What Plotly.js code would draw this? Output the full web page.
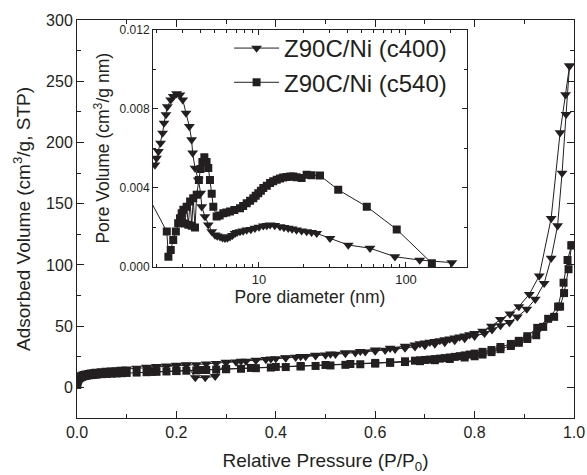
<!DOCTYPE html>
<html><head><meta charset="utf-8">
<script src="https://cdn.plot.ly/plotly-3.0.1.min.js"></script>
<style>html,body{margin:0;padding:0;background:#fff}#chart{width:587px;height:475px}</style>
</head><body><div id="chart"></div>
<script>
// ---- Isotherm data (relative pressure P/P0, adsorbed volume cm3/g STP) ----
const c400AdsP = [0.0005,0.001,0.002,0.003,0.005,0.007,0.01,0.013,0.016,0.02,0.025,0.03,0.035,0.04,0.05,0.06,0.07,0.08,0.09,0.10,0.12,0.14,0.16,0.18,0.20,0.22,0.24,0.26,0.28,0.30,0.32,0.34,0.36,0.38,0.40,0.42,0.44,0.46,0.48,0.50,0.52,0.54,0.56,0.58,0.60,0.62,0.64,0.66,0.68,0.70,0.72,0.74,0.76,0.78,0.80,0.82,0.835,0.852,0.870,0.886,0.905,0.922,0.940,0.954,0.967,0.976,0.984,0.991];
const c400AdsV = [2.5,4.5,6.5,7.8,9.0,9.8,10.5,11.0,11.4,11.8,12.2,12.6,12.9,13.2,13.6,14.0,14.3,14.6,14.9,15.2,15.7,16.2,16.7,17.2,17.6,18.1,18.6,19.1,19.6,20.2,20.8,21.4,22.1,22.8,23.5,24.1,24.7,25.3,25.9,26.5,27.1,27.7,28.3,29.0,29.7,30.4,31.2,32.1,33.1,34.2,35.4,36.7,38.2,39.9,41.8,44.2,47.0,50.5,53.0,57.6,64.0,72.0,85.0,105.5,132.0,175.0,223.0,262.5];
const c400DesP = [0.991,0.983,0.972,0.954,0.930,0.910,0.889,0.871,0.852,0.834,0.816,0.80,0.79,0.78,0.77,0.76,0.75,0.74,0.73,0.72,0.71,0.70,0.69,0.68,0.66,0.63,0.60,0.57,0.54,0.51,0.48,0.45,0.42,0.39,0.36,0.33,0.30,0.278,0.258,0.238,0.22,0.20,0.18,0.16,0.14];
const c400DesV = [262.5,239,208,138,91,76,66,60,55.5,50,46,44,43,42,41.2,40.4,39.6,38.9,38.2,37.5,36.9,36.3,35.7,34.8,33.6,32.0,30.7,29.5,28.4,27.3,26.3,25.3,24.3,23.3,22.3,21.5,20.6,9.0,8.0,8.0,18.6,18.1,17.6,17.1,16.6];
const c540AdsP = [0.0005,0.001,0.002,0.003,0.005,0.007,0.01,0.013,0.016,0.02,0.025,0.03,0.035,0.04,0.05,0.06,0.07,0.08,0.09,0.10,0.12,0.14,0.16,0.18,0.20,0.22,0.24,0.26,0.28,0.30,0.33,0.36,0.39,0.42,0.45,0.48,0.51,0.54,0.57,0.60,0.63,0.66,0.69,0.72,0.75,0.78,0.80,0.816,0.834,0.852,0.873,0.889,0.906,0.924,0.938,0.960,0.972,0.980,0.989,0.995];
const c540AdsV = [2.0,4.0,5.5,6.5,7.5,8.0,8.6,9.0,9.3,9.6,9.9,10.1,10.3,10.5,10.8,11.0,11.2,11.4,11.6,11.8,12.1,12.4,12.7,13.0,13.3,13.6,13.9,14.2,14.5,14.8,15.2,15.7,16.2,16.6,17.0,17.5,17.9,18.4,18.9,19.4,20.0,20.7,21.4,22.2,23.2,24.4,25.4,26.8,28.8,31.2,33.8,36.4,39.5,42.6,49.4,57.6,66.0,77.0,96.5,116.0];
const c540DesP = [0.995,0.987,0.979,0.968,0.948,0.926,0.906,0.889,0.873,0.852,0.834,0.816,0.80,0.79,0.78,0.77,0.76,0.75,0.74,0.73,0.72,0.71,0.70,0.69,0.68,0.66,0.63,0.60,0.55,0.50,0.45,0.40,0.35,0.30,0.25,0.20,0.15];
const c540DesV = [116.0,104.0,85.5,66.0,56.0,48.6,41.8,38.0,35.5,33.0,30.5,29.0,27.6,26.8,26.1,25.5,24.9,24.4,23.9,23.5,23.1,22.7,22.4,22.1,21.8,21.3,20.6,20.0,19.1,18.3,17.5,16.7,15.9,15.0,14.2,13.4,12.6];

// ---- Pore size distribution (pore diameter nm, pore volume cm3/g nm) ----
const c400PoreD = [1.96,2.01,2.07,2.14,2.21,2.26,2.33,2.38,2.51,2.61,2.75,2.90,3.03,3.19,3.36,3.48,3.54,3.67,3.87,4.01,4.08,4.29,4.52,4.77,5.02,5.2,5.43,5.65,5.87,6.1,6.35,6.6,6.87,7.1,7.43,7.8,8.25,8.8,9.39,10.0,10.7,11.3,11.9,12.8,13.9,14.8,15.8,16.8,18.0,19.5,21.1,22.8,24.7,30.4,40.5,56.9,84.1,124,205];
const c400PoreV = [0.00516,0.0055,0.00584,0.00626,0.00677,0.00727,0.0077,0.0081,0.00845,0.00862,0.00876,0.0087,0.00845,0.00778,0.0071,0.00643,0.00576,0.0050,0.0044,0.00373,0.00305,0.00255,0.00213,0.00179,0.00162,0.00157,0.00153,0.00148,0.00145,0.00147,0.00153,0.0016,0.0017,0.00175,0.00179,0.00182,0.00187,0.0019,0.00196,0.00202,0.00208,0.0021,0.00213,0.0021,0.00204,0.0020,0.00196,0.00192,0.00187,0.00183,0.00179,0.00175,0.0017,0.00145,0.00111,0.00095,0.00052,0.00035,0.00022];
const c540PoreD = [1.67,2.36,2.42,2.51,2.61,2.72,2.82,2.90,2.98,3.06,3.14,3.22,3.31,3.40,3.49,3.57,3.67,3.77,3.90,4.00,4.12,4.25,4.40,4.52,4.64,4.77,4.89,5.15,5.4,5.72,6.0,6.35,6.8,7.43,7.8,8.25,8.7,9.15,9.5,9.89,10.3,10.7,11.3,11.9,12.5,13.2,13.9,14.6,15.4,16.3,17.1,18.0,19.5,21.1,22.8,26.0,34.6,54.1,86.5,150];
const c540PoreV = [0.0039,0.00179,0.00052,0.00086,0.00137,0.00179,0.00221,0.00246,0.00272,0.00289,0.0022,0.00305,0.00213,0.00331,0.00208,0.00348,0.0020,0.00365,0.0044,0.00495,0.0053,0.00555,0.0053,0.0050,0.0044,0.0037,0.00305,0.00255,0.0026,0.00272,0.00275,0.0028,0.00288,0.00297,0.00308,0.00322,0.00335,0.00348,0.0036,0.00373,0.00385,0.00399,0.0041,0.00424,0.00433,0.00441,0.00447,0.00452,0.00455,0.00457,0.00457,0.00454,0.0045,0.00466,0.00463,0.00462,0.0039,0.00305,0.0019,0.00019];

// ---- Labels / ticks ----
const seriesNames = ['Z90C/Ni (c400)', 'Z90C/Ni (c540)'];
const xTicks = [0, 0.2, 0.4, 0.6, 0.8, 1.0];
const xTickText = ['0.0', '0.2', '0.4', '0.6', '0.8', '1.0'];
const yTicks = [0, 50, 100, 150, 200, 250, 300];
const insetXTicks = [10, 100];
const insetXTickText = ['10', '100'];
const insetXMinor = [2,3,4,5,6,7,8,9,20,30,40,50,60,70,80,90,200];
const insetYTicks = [0, 0.004, 0.008, 0.012];
const insetYTickText = ['0.000', '0.004', '0.008', '0.012'];

const FONT = 'Liberation Sans, Arial, Helvetica, sans-serif';
const INK = '#231f20';

function iso(p, v, sym, size) {
  return {x: p, y: v, xaxis: 'x', yaxis: 'y', type: 'scatter', mode: 'lines+markers',
    line: {color: INK, width: 1}, marker: {symbol: sym, size: size, color: INK},
    showlegend: false, hoverinfo: 'skip'};
}
function psd(d, v, sym, size, name) {
  return {x: d, y: v, xaxis: 'x2', yaxis: 'y2', type: 'scatter', mode: 'lines+markers', name: name,
    line: {color: INK, width: 1}, marker: {symbol: sym, size: size, color: INK},
    showlegend: true, hoverinfo: 'skip'};
}

const data = [
  iso(c400AdsP, c400AdsV, 'triangle-down', 9.5),
  iso(c400DesP, c400DesV, 'triangle-down', 9.5),
  iso(c540AdsP, c540AdsV, 'square', 8),
  iso(c540DesP, c540DesV, 'square', 8),
  psd(c400PoreD, c400PoreV, 'triangle-down', 9.5, seriesNames[0]),
  psd(c540PoreD, c540PoreV, 'square', 8, seriesNames[1])
];

const axisCommon = {showline: true, linecolor: INK, linewidth: 1, mirror: 'ticks', ticks: 'inside',
  tickcolor: INK, tickwidth: 1, showgrid: false, zeroline: false};

const layout = {
  width: 587, height: 475,
  margin: {l: 77, r: 13, t: 20, b: 57},
  paper_bgcolor: '#fff', plot_bgcolor: '#fff',
  font: {family: FONT, color: INK},
  showlegend: true,
  legend: {x: 0.306, y: 0.985, xanchor: 'left', yanchor: 'top', font: {size: 24, family: FONT, color: INK},
    bgcolor: 'rgba(0,0,0,0)', borderwidth: 0, itemwidth: 45, tracegroupgap: 0},
  xaxis: Object.assign({}, axisCommon, {domain: [0, 1], range: [0, 1], anchor: 'y',
    tickmode: 'array', tickvals: xTicks, ticktext: xTickText, ticklen: 7,
    minor: {dtick: 0.1, tick0: 0, ticks: 'inside', ticklen: 4, tickcolor: INK},
    tickfont: {size: 16, family: FONT, color: INK},
    title: {text: 'Relative Pressure (P/P<sub>0</sub>)', font: {size: 19, family: FONT, color: INK}, standoff: 13}}),
  yaxis: Object.assign({}, axisCommon, {domain: [0, 1], range: [-25, 300], anchor: 'x',
    tickmode: 'array', tickvals: yTicks, ticklen: 7,
    minor: {dtick: 25, tick0: 0, ticks: 'inside', ticklen: 4, tickcolor: INK},
    tickfont: {size: 16, family: FONT, color: INK},
    title: {text: 'Adsorbed Volume (cm<sup>3</sup>/g, STP)', font: {size: 19, family: FONT, color: INK}, standoff: 10}}),
  xaxis2: Object.assign({}, axisCommon, {domain: [0.1529, 0.7847], type: 'log', range: [0.279, 2.415], anchor: 'y2',
    tickmode: 'array', tickvals: insetXTicks, ticktext: insetXTickText, ticklen: 5,
    minor: {tickmode: 'array', tickvals: insetXMinor, ticks: 'inside', ticklen: 3, tickcolor: INK},
    tickfont: {size: 13, family: FONT, color: INK},
    title: {text: 'Pore diameter (nm)', font: {size: 17.5, family: FONT, color: INK}, standoff: 3}}),
  yaxis2: Object.assign({}, axisCommon, {domain: [0.3794, 0.9761], range: [0, 0.012], anchor: 'x2',
    tickmode: 'array', tickvals: insetYTicks, ticktext: insetYTickText, ticklen: 5,
    minor: {dtick: 0.002, tick0: 0, ticks: 'inside', ticklen: 3, tickcolor: INK},
    tickfont: {size: 12, family: FONT, color: INK},
    title: {text: 'Pore Volume (cm<sup>3</sup>/g nm)', font: {size: 17.5, family: FONT, color: INK}, standoff: 5}})
};

Plotly.newPlot('chart', data, layout, {staticPlot: true, displayModeBar: false});
</script></body></html>
